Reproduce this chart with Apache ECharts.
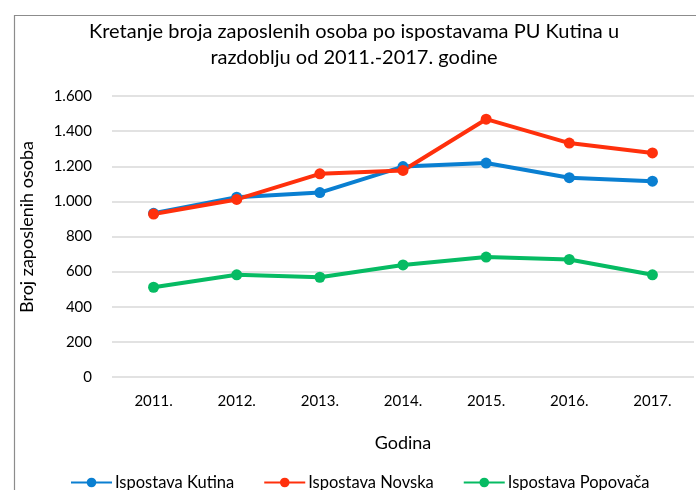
<!DOCTYPE html>
<html>
<head>
<meta charset="utf-8">
<script src="https://cdn.jsdelivr.net/npm/echarts@6/dist/echarts.min.js"></script>
<style>
  html, body { margin: 0; padding: 0; background: #fff; }
  #chart { width: 696px; height: 490px; }
</style>
</head>
<body>
<div id="chart"></div>
<script>
const years = ['2011.', '2012.', '2013.', '2014.', '2015.', '2016.', '2017.'];
const kutina = [932, 1024, 1050, 1198, 1218, 1135, 1115];
const novska = [928, 1011, 1157, 1176, 1468, 1332, 1276];
const popovaca = [511, 582, 568, 638, 683, 669, 582];

const font = 'Lato';
const fmt = (v) => String(v).replace(/\B(?=(\d{3})+(?!\d))/g, '.');

const chart = echarts.init(document.getElementById('chart'));

const mkSeries = (name, data, color) => ({
  name, type: 'line', data,
  symbol: 'circle', symbolSize: 11,
  lineStyle: { width: 4, color },
  itemStyle: { color },
  emphasis: { disabled: true },
});

chart.setOption({
  animation: false,
  textStyle: { fontFamily: font },
  graphic: [
    {
      type: 'rect', left: 12, top: 13,
      shape: { width: 720, height: 500 },
      style: { fill: 'none', stroke: '#8c8c8c', lineWidth: 1.2 },
      z: -1,
    },
    {
      type: 'text', x: 27, y: 227, rotation: Math.PI / 2,
      style: {
        text: 'Broj zaposlenih osoba', fontFamily: font, fontSize: 18,
        fill: '#000', align: 'center', verticalAlign: 'middle',
      },
    },
  ],
  title: {
    text: 'Kretanje broja zaposlenih osoba po ispostavama PU Kutina u\nrazdoblju od 2011.-2017. godine',
    left: 349, top: 14, textAlign: 'center',
    textStyle: { fontFamily: font, fontSize: 20, fontWeight: 'normal', color: '#000', lineHeight: 26 },
  },
  legend: {
    left: 70, top: 474, padding: 0,
    itemWidth: 41, itemHeight: 12, itemGap: 29,
    textStyle: { fontFamily: font, fontSize: 16.5, color: '#000', padding: [0, 0, 0, -2] },
    data: ['Ispostava Kutina', 'Ispostava Novska', 'Ispostava Popovača'],
  },
  grid: { left: 112, right: 2, top: 96, bottom: 113 },
  xAxis: {
    type: 'category', data: years,
    name: 'Godina', nameLocation: 'middle', nameGap: 57,
    nameTextStyle: { fontFamily: font, fontSize: 18, color: '#000' },
    axisLine: { show: false }, axisTick: { show: false },
    axisLabel: { fontSize: 15, color: '#000', margin: 17 },
  },
  yAxis: {
    type: 'value', min: 0, max: 1600, interval: 200,
    axisLabel: { fontSize: 15, color: '#000', margin: 20, formatter: fmt },
    splitLine: { lineStyle: { color: '#d9d9d9', width: 1.5 } },
  },
  series: [
    mkSeries('Ispostava Kutina', kutina, '#0a7fd1'),
    mkSeries('Ispostava Novska', novska, '#ff300c'),
    mkSeries('Ispostava Popovača', popovaca, '#06bb63'),
  ],
});
</script>
</body>
</html>
